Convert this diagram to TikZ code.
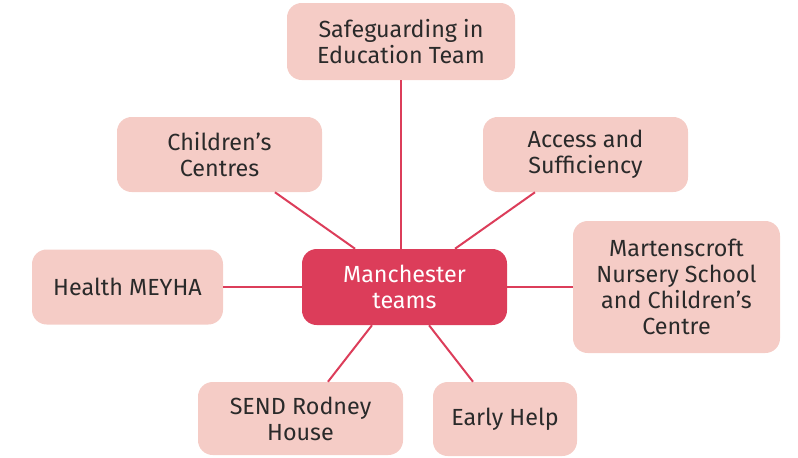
\documentclass[tikz,border=0pt]{standalone}
\usepackage{fontspec}
\setmainfont{Fira Sans}
\definecolor{pale}{HTML}{F5CCC6}
\definecolor{crim}{HTML}{DC3D5A}
\definecolor{ink}{HTML}{2A2A2A}
\begin{document}
\begin{tikzpicture}[x=0.75pt,y=-0.75pt,
  leaf/.style={fill=pale, rounded corners=11pt, text=ink, align=center, inner sep=0pt, font=\fontsize{17.5}{19.5}\selectfont},
  hub/.style={fill=crim, rounded corners=11pt, text=white, align=center, inner sep=0pt, font=\fontsize{17.5}{19.5}\selectfont},
  link/.style={draw=crim, line width=1.5pt}]
\useasboundingbox (0,0) rectangle (798,457);
\node[leaf, minimum width=171pt, minimum height=57.75pt] (saf) at (401,41.5) {Safeguarding in\\Education Team};
\node[leaf, minimum width=153.75pt, minimum height=56.25pt] (cc) at (219.5,154.5) {Children’s\\Centres};
\node[leaf, minimum width=153.75pt, minimum height=56.25pt] (acc) at (585.5,154.5) {Access and\\Sufficiency};
\node[leaf, minimum width=143.25pt, minimum height=56.25pt] (hea) at (127.5,287) {Health MEYHA};
\node[hub, minimum width=153.75pt, minimum height=57pt] (man) at (404.5,287) {Manchester\\teams};
\node[leaf, minimum width=155.25pt, minimum height=99pt] (mar) at (676.5,287) {Martenscroft\\Nursery School\\and Children’s\\Centre};
\node[leaf, minimum width=153.75pt, minimum height=54.75pt] (send) at (300.5,418.5) {SEND Rodney\\House};
\node[leaf, minimum width=108pt, minimum height=55.5pt] (eh) at (505,419) {Early Help};
\draw[link] (saf.south) -- (saf.south |- man.north);
\draw[link] ([xshift=41.6pt]cc.south) -- ([xshift=-37.1pt]man.north);
\draw[link] ([xshift=-37.9pt]acc.south) -- ([xshift=37.9pt]man.north);
\draw[link] (hea.east) -- (man.west);
\draw[link] (man.east) -- (mar.west);
\draw[link] ([xshift=-24.4pt]man.south) -- ([xshift=20.6pt]send.north);
\draw[link] ([xshift=18.4pt]man.south) -- ([xshift=-24pt]eh.north);
\end{tikzpicture}
\end{document}
